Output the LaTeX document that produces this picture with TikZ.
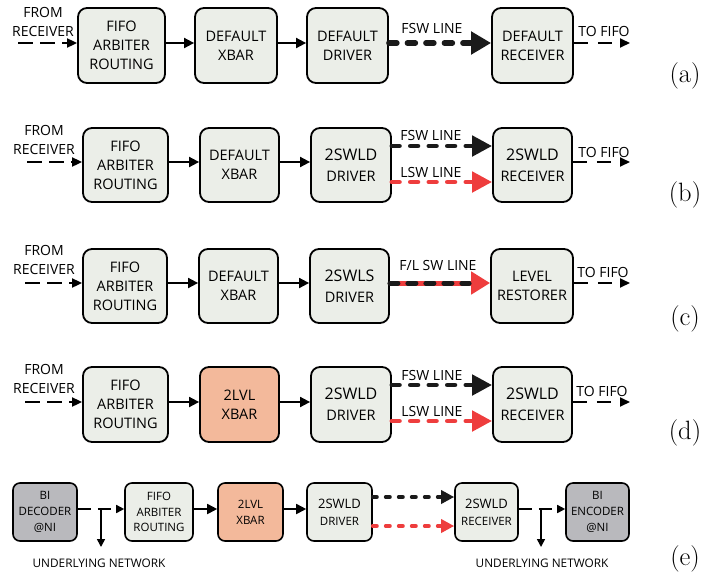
\documentclass[tikz,border=0pt]{standalone}
\usepackage{fontspec}
\newfontfamily\osans{Open Sans}
\usetikzlibrary{arrows.meta}
\definecolor{boxfill}{HTML}{EBEEE8}
\definecolor{orangefill}{HTML}{F3B99B}
\definecolor{grayfill}{HTML}{B9B9BD}
\definecolor{redline}{HTML}{EE3D3D}
\definecolor{darkline}{HTML}{1A1A1A}
\newcommand\bigtxt[1]{{\fontsize{16}{19}\selectfont #1}}
\newcommand\bigtxte[1]{{\fontsize{13}{16}\selectfont #1}}
\tikzset{
 blk/.style={draw=black, line width=1.8pt, rounded corners=9pt, fill=boxfill, inner sep=0pt, align=center,
   font=\osans\fontsize{14.5}{19}\selectfont},
 sblk/.style={blk, rounded corners=7pt, line width=1.6pt, font=\osans\fontsize{11.5}{15.7}\selectfont},
 arr/.style={line width=1.8pt, -{Triangle[length=10pt,width=10pt]}},
 darr/.style={line width=1.8pt, dash pattern=on 15pt off 7pt, -{Triangle[length=10pt,width=9pt]}},
 tarr/.style={line width=1.8pt, dash pattern=on 14pt off 10pt, -{Triangle[length=10pt,width=9pt]}},
 earr/.style={line width=1.6pt, dash pattern=on 13pt off 7pt, -{Triangle[length=8pt,width=8pt]}},
 varr/.style={line width=1.6pt, -{Triangle[length=8pt,width=8pt]}},
 fswa/.style={line width=5.5pt, line cap=round, dash pattern=on 8pt off 10.5pt, darkline, -{Triangle[length=20pt,width=22pt]}},
 fsw/.style={line width=4.8pt, line cap=round, dash pattern=on 7.5pt off 11pt, darkline, -{Triangle[length=20pt,width=20pt]}},
 lsw/.style={fsw, redline},
 fswe/.style={line width=4pt, line cap=round, dash pattern=on 4pt off 9pt, darkline, -{Triangle[length=13pt,width=13pt]}},
 lswe/.style={fswe, redline},
 lbl/.style={font=\osans\fontsize{14}{19}\selectfont, inner sep=0pt, align=center},
 slbl/.style={font=\osans\fontsize{11.8}{14}\selectfont, inner sep=0pt},
 tag/.style={font=\fontsize{26.5}{30}\selectfont, inner sep=0pt},
}
\begin{document}
\begin{tikzpicture}[x=1pt,y=-1pt]
\useasboundingbox (0,0) rectangle (703,579);
% ---------- (a)
\node[blk, minimum width=87pt, minimum height=75pt] (fa) at (121.5,45.5) {FIFO\\ARBITER\\ROUTING};
\node[blk, minimum width=82pt, minimum height=75pt] (xa) at (236,45.5) {DEFAULT\\XBAR};
\node[blk, minimum width=81pt, minimum height=75pt] (da) at (347.5,45.5) {DEFAULT\\DRIVER};
\node[blk, minimum width=81pt, minimum height=75pt] (ra) at (532.5,45.5) {DEFAULT\\RECEIVER};
\node[lbl] (fra) at (43,21.5) {FROM\\RECEIVER};
\node[lbl] (tfa) at (604,31) {TO FIFO};
\node[lbl] (fla) at (432,28) {FSW LINE};
\node[tag] (ta) at (685,76) {(a)};
\coordinate (sa) at (18,43);
\coordinate (ea) at (630,43);
\draw[darr] (sa) -- (fa.west |- sa);
\draw[arr] (fa.east |- sa) -- (xa.west |- sa);
\draw[arr] (xa.east |- sa) -- (da.west |- sa);
\draw[fswa] (da.east |- sa) -- (ra.west |- sa);
\draw[tarr] (ra.east |- ea) -- (ea);
% ---------- (b)
\node[blk, minimum width=85pt, minimum height=74pt] (fb) at (125.5,165) {FIFO\\ARBITER\\ROUTING};
\node[blk, minimum width=79pt, minimum height=74pt] (xb) at (239.5,165) {DEFAULT\\XBAR};
\node[blk, minimum width=80pt, minimum height=74pt] (db) at (351,165) {\bigtxt{2SWLD}\\[2pt]DRIVER};
\node[blk, minimum width=79pt, minimum height=74pt] (rb) at (532.5,165) {\bigtxt{2SWLD}\\[2pt]RECEIVER};
\node[lbl] (frb) at (44,140) {FROM\\RECEIVER};
\node[lbl] (tfb) at (604,152) {TO FIFO};
\node[lbl] (flb) at (431,135) {FSW LINE};
\node[lbl] (llb) at (431,172) {LSW LINE};
\node[tag] (tb) at (685,195) {(b)};
\coordinate (sb) at (27,162);
\coordinate (eb) at (630,162);
\coordinate (fyb) at (0,146);
\coordinate (lyb) at (0,182);
\draw[darr] (sb) -- (fb.west |- sb);
\draw[arr] (fb.east |- sb) -- (xb.west |- sb);
\draw[arr] (xb.east |- sb) -- (db.west |- sb);
\draw[fsw] (db.east |- fyb) -- (rb.west |- fyb);
\draw[lsw] (db.east |- lyb) -- (rb.west |- lyb);
\draw[tarr] (rb.east |- eb) -- (eb);
% ---------- (c)
\node[blk, minimum width=84pt, minimum height=74pt] (fc) at (125,286) {FIFO\\ARBITER\\ROUTING};
\node[blk, minimum width=79pt, minimum height=74pt] (xc) at (238.5,286) {DEFAULT\\XBAR};
\node[blk, minimum width=79pt, minimum height=74pt] (dc) at (349.5,286) {\bigtxt{2SWLS}\\[2pt]DRIVER};
\node[blk, minimum width=82pt, minimum height=74pt] (rc) at (532,286) {LEVEL\\RESTORER};
\node[lbl] (frc) at (44,260) {FROM\\RECEIVER};
\node[lbl] (tfc) at (603,272) {TO FIFO};
\node[lbl] (flc) at (438,265) {F/L SW LINE};
\node[tag] (tc) at (685,319) {(c)};
\coordinate (sc) at (25,283);
\coordinate (ec) at (630,283);
\draw[darr] (sc) -- (fc.west |- sc);
\draw[arr] (fc.east |- sc) -- (xc.west |- sc);
\draw[arr] (xc.east |- sc) -- (dc.west |- sc);
\draw[line width=5pt, redline, -{Triangle[length=19pt,width=22pt]}] (dc.east |- sc) -- (rc.west |- sc);
\draw[line width=5pt, line cap=round, dash pattern=on 8pt off 10pt, darkline, shorten >=21pt] (dc.east |- sc) -- (rc.west |- sc);
\draw[tarr] (rc.east |- ec) -- (ec);
% ---------- (d)
\node[blk, minimum width=85pt, minimum height=75pt] (fd) at (125.5,404.5) {FIFO\\ARBITER\\ROUTING};
\node[blk, fill=orangefill, minimum width=79pt, minimum height=75pt] (xd) at (239.5,404.5) {2LVL\\XBAR};
\node[blk, minimum width=80pt, minimum height=75pt] (dd) at (351,404.5) {\bigtxt{2SWLD}\\[2pt]DRIVER};
\node[blk, minimum width=79pt, minimum height=75pt] (rd) at (532.5,404.5) {\bigtxt{2SWLD}\\[2pt]RECEIVER};
\node[lbl] (frd) at (44,379) {FROM\\RECEIVER};
\node[lbl] (tfd) at (602,391) {TO FIFO};
\node[lbl] (fld) at (432,375) {FSW LINE};
\node[lbl] (lld) at (432,411) {LSW LINE};
\node[tag] (td) at (685,433) {(d)};
\coordinate (sd) at (25,402);
\coordinate (ed) at (630,402);
\coordinate (fyd) at (0,385);
\coordinate (lyd) at (0,421);
\draw[darr] (sd) -- (fd.west |- sd);
\draw[arr] (fd.east |- sd) -- (xd.west |- sd);
\draw[arr] (xd.east |- sd) -- (dd.west |- sd);
\draw[fsw] (dd.east |- fyd) -- (rd.west |- fyd);
\draw[lsw] (dd.east |- lyd) -- (rd.west |- lyd);
\draw[tarr] (rd.east |- ed) -- (ed);
% ---------- (e)
\node[sblk, fill=grayfill, minimum width=64pt, minimum height=58pt] (be) at (45,512) {BI\\DECODER\\@NI};
\node[sblk, minimum width=68pt, minimum height=58pt] (fe) at (159,512) {FIFO\\ARBITER\\ROUTING};
\node[sblk, fill=orangefill, minimum width=65pt, minimum height=58pt] (xe) at (250.5,512) {2LVL\\XBAR};
\node[sblk, minimum width=65pt, minimum height=58pt] (de) at (339.5,512) {\bigtxte{2SWLD}\\[1pt]DRIVER};
\node[sblk, minimum width=63pt, minimum height=58pt] (re) at (486.5,512) {\bigtxte{2SWLD}\\[1pt]RECEIVER};
\node[sblk, fill=grayfill, minimum width=63pt, minimum height=58pt] (ee) at (597.5,512) {BI\\ENCODER\\@NI};
\node[slbl] (unl) at (99,563) {UNDERLYING NETWORK};
\node[slbl] (unr) at (542,563) {UNDERLYING NETWORK};
\node[tag] (te) at (685,559) {(e)};
\coordinate (ye) at (0,509);
\coordinate (fye) at (0,497);
\coordinate (lye) at (0,526);
\coordinate (jl) at (101,509);
\coordinate (dl) at (101,547);
\coordinate (jr) at (541,509);
\coordinate (dr) at (541,547);
\draw[earr] (be.east |- ye) -- (fe.west |- ye);
\draw[varr] (jl) -- (dl);
\draw[arr] (fe.east |- ye) -- (xe.west |- ye);
\draw[arr] (xe.east |- ye) -- (de.west |- ye);
\draw[fswe] (de.east |- fye) -- (re.west |- fye);
\draw[lswe] (de.east |- lye) -- (re.west |- lye);
\draw[earr] (re.east |- ye) -- (ee.west |- ye);
\draw[varr] (jr) -- (dr);
\end{tikzpicture}
\end{document}
